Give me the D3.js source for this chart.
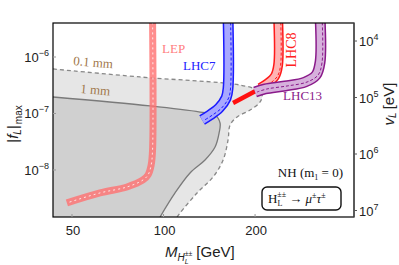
<!DOCTYPE html>
<html><head><meta charset="utf-8">
<script src="https://cdn.jsdelivr.net/npm/d3@7"></script>
<style>
body{margin:0;background:#fff}
text{font-family:"Liberation Sans",Arial,sans-serif}
.serif{font-family:"Liberation Serif","Times New Roman",serif}
</style>
</head><body>
<svg id="chart" width="399" height="265"></svg>
<script>
// values (mass in GeV, coupling |f_L|max)
var xTicks = [50, 100, 200];
var yTicks = [1e-6, 1e-7, 1e-8];
var vTicks = [1e4, 1e5, 1e6, 1e7];

// decay length contours
var mm01 = [[43.3,6.14e-7],[83.7,4.43e-7],[178.5,3.19e-7],[203,2.61e-7],[210.9,2.12e-7],[207.7,1.60e-7],[192.6,1.15e-7],[174.5,8.67e-8],[165.5,6.25e-8],[163.0,3.40e-8],[157.0,1.50e-8],[145.5,7.52e-9],[128.9,3.92e-9],[113.3,1.73e-9],[110.8,1.47e-9]];
var mm1 = [[43.3,1.96e-7],[90.3,1.36e-7],[131.9,1.06e-7],[147.7,9.40e-8],[153.4,6.79e-8],[152.3,4.52e-8],[147.7,2.55e-8],[136.9,1.50e-8],[122.2,8.85e-9],[109.1,3.92e-9],[97.4,1.47e-9]];

// exclusion bands
var lep = [[92,5e-6],[92,2.2e-8],[91,1.2e-8],[88.9,8.16e-9],[85.6,6.65e-9],[75.8,5.0e-9],[61.8,3.92e-9],[48.1,2.61e-9]];
var lhc7 = [[163,5e-6],[163,2.82e-7],[160.6,1.88e-7],[152.3,1.25e-7],[142.2,9.4e-8],[133.9,7.67e-8]];
var lhc8 = [[238.1,5e-6],[238.1,7.21e-7],[232.7,4.61e-7],[220.7,3.47e-7],[207.7,2.82e-7]];
var lhc8tail = [[212.4,2.94e-7],[169.3,1.53e-7]];
var lhc13 = [[327.2,5e-6],[327.2,8.16e-7],[317.5,4.8e-7],[292.1,3.61e-7],[251.1,3.07e-7],[215.8,2.72e-7],[200,2.4e-7]];

var svg = d3.select("#chart");
var pL = 53, pR = 354, pT = 23, pB = 217;

var x = d3.scaleLog().domain([43.3, 423]).range([pL, pR]);
var y = d3.scaleLog().domain([1.47e-9, 4.0e-6]).range([pB, pT]);
var v = d3.scaleLog().domain([4797, 1.303e7]).range([pT, pB]);

svg.append("clipPath").attr("id","clip")
  .append("rect").attr("x",pL).attr("y",pT).attr("width",pR-pL).attr("height",pB-pT);

var plot = svg.append("g").attr("clip-path","url(#clip)");

var line = d3.line()
  .x(function(d){ return x(d[0]); })
  .y(function(d){ return y(d[1]); })
  .curve(d3.curveCatmullRom);

// shaded regions: close them through the lower left corner
var corner = [x.domain()[0], y.domain()[0]];
plot.append("path")
  .attr("d", line(mm01) + "L" + x(corner[0]) + "," + y(corner[1]) + "Z")
  .attr("fill","#e6e6e6");
plot.append("path")
  .attr("d", line(mm1) + "L" + x(corner[0]) + "," + y(corner[1]) + "Z")
  .attr("fill","#d0d0d0");
plot.append("path").attr("d", line(mm01))
  .attr("fill","none").attr("stroke","#888").attr("stroke-width",1.3).attr("stroke-dasharray","4,3");
plot.append("path").attr("d", line(mm1))
  .attr("fill","none").attr("stroke","#7a7a7a").attr("stroke-width",1.3);

// LEP
plot.append("path").attr("d", line(lep))
  .attr("fill","none").attr("stroke","#ff7070").attr("stroke-opacity",0.8).attr("stroke-width",7);
plot.append("path").attr("d", line(lep))
  .attr("fill","none").attr("stroke","#fff").attr("stroke-opacity",0.8).attr("stroke-width",1).attr("stroke-dasharray","2,3");

var band = function(data, w, edge, fill, shift){
  plot.append("path").attr("d", line(data))
    .attr("fill","none").attr("stroke",edge).attr("stroke-width",w);
  plot.append("path").attr("d", line(data))
    .attr("fill","none").attr("stroke",fill).attr("stroke-width",w-3);
  plot.append("path").attr("d", line(data))
    .attr("transform","translate(" + shift + ",0)")
    .attr("fill","none").attr("stroke",edge).attr("stroke-width",1).attr("stroke-dasharray","3,2");
};

band(lhc7, 11, "#1a1aff", "#a8a8ff", 2.5);
plot.append("path").attr("d", line(lhc8tail))
  .attr("fill","none").attr("stroke","#ff1010").attr("stroke-width",4.5);
band(lhc8, 10, "#ff1a1a", "#ffb4b4", 2.5);
band(lhc13, 11, "#8a1a8a", "#d6b0dc", 2);

// frame
svg.append("rect").attr("x",pL).attr("y",pT).attr("width",pR-pL).attr("height",pB-pT)
  .attr("fill","none").attr("stroke","#000").attr("stroke-width",1.2);
svg.append("line").attr("x1",pR).attr("x2",pR).attr("y1",pT).attr("y2",pB)
  .attr("stroke","#555").attr("stroke-width",1.2);

// ticks
xTicks.forEach(function(t){
  svg.append("line").attr("x1",x(t)).attr("x2",x(t)).attr("y1",pB).attr("y2",pB-3)
    .attr("stroke","#999");
  svg.append("text").attr("x",x(t)+1).attr("y",pB+18).attr("text-anchor","middle")
    .attr("font-size",13).attr("fill","#222").text(t);
});

yTicks.forEach(function(t){
  svg.append("line").attr("x1",pL).attr("x2",pL+3).attr("y1",y(t)).attr("y2",y(t))
    .attr("stroke","#999");
  var tx = svg.append("text").attr("x",pL-4).attr("y",y(t)+5).attr("text-anchor","end")
    .attr("font-size",13).attr("fill","#222");
  tx.append("tspan").text("10");
  tx.append("tspan").attr("dy",-6).attr("font-size",9).text("\u2212" + Math.round(-Math.log10(t)));
});

vTicks.forEach(function(t){
  svg.append("line").attr("x1",pR).attr("x2",pR+3).attr("y1",v(t)).attr("y2",v(t))
    .attr("stroke","#555");
  var tx = svg.append("text").attr("x",pR+5).attr("y",v(t)+5)
    .attr("font-size",13).attr("fill","#222");
  tx.append("tspan").text("10");
  tx.append("tspan").attr("dy",-6).attr("font-size",9).text(Math.round(Math.log10(t)));
});

// axis labels
var xl = svg.append("text").attr("x",165).attr("y",257).attr("font-size",15).attr("fill","#222");
xl.append("tspan").attr("font-style","italic").text("M");
xl.append("tspan").attr("font-style","italic").attr("font-size",10).attr("dy",4).text("H");
xl.append("tspan").attr("font-style","italic").attr("font-size",7).attr("dy",3).text("L");
xl.append("tspan").attr("font-size",7).attr("dx",-4).attr("dy",-8).text("\u00b1\u00b1");
xl.append("tspan").attr("dy",1).attr("dx",4).text("[GeV]");

var yl = svg.append("text").attr("transform","translate(18,124) rotate(-90)")
  .attr("text-anchor","middle").attr("font-size",15).attr("fill","#222");
yl.append("tspan").text("|");
yl.append("tspan").attr("font-style","italic").text("f");
yl.append("tspan").attr("font-style","italic").attr("font-size",10).attr("dy",3).text("L");
yl.append("tspan").attr("dy",-3).text("|");
yl.append("tspan").attr("font-size",10).attr("dy",4).attr("dx",1).text("max");

var vl = svg.append("text").attr("transform","translate(394,104) rotate(-90)")
  .attr("text-anchor","middle").attr("font-size",15).attr("fill","#222");
vl.append("tspan").attr("font-style","italic").text("v");
vl.append("tspan").attr("font-style","italic").attr("font-size",10).attr("dy",2).text("L");
vl.append("tspan").attr("dy",-2).attr("dx",3).text("[eV]");

// annotations
var note = function(mx, fy, txt, col, rot){
  svg.append("text").attr("class","serif")
    .attr("transform","translate(" + x(mx) + "," + y(fy) + ") rotate(" + rot + ")")
    .attr("font-size",13).attr("fill",col).text(txt);
};
note(98.9, 1.18e-6, "LEP", "#ff8080", 0);
note(115.9, 5.89e-7, "LHC7", "#2424ff", 0);
note(247.3, 1.73e-7, "LHC13", "#8a1a8a", 0);
note(50.4, 7.21e-7, "0.1 mm", "#a0764a", 5);
note(53.1, 2.31e-7, "1 mm", "#a0764a", 5);
svg.append("text").attr("class","serif")
  .attr("transform","translate(" + x(264.7) + "," + y(1.33e-6) + ") rotate(-90)")
  .attr("text-anchor","middle").attr("dy",4).attr("font-size",14).attr("fill","#ff2020").text("LHC8");

var nh = svg.append("text").attr("class","serif").attr("x",343).attr("y",177)
  .attr("text-anchor","end").attr("font-size",13).attr("fill","#111");
nh.append("tspan").text("NH (m");
nh.append("tspan").attr("font-size",8).attr("dy",3).text("1");
nh.append("tspan").attr("dy",-3).text(" = 0)");

svg.append("rect").attr("x",262).attr("y",187).attr("width",79).attr("height",23).attr("rx",5)
  .attr("fill","#fff").attr("stroke","#111").attr("stroke-width",1.4);
var bx = svg.append("text").attr("class","serif").attr("x",268).attr("y",203)
  .attr("font-size",13).attr("fill","#111");
bx.append("tspan").text("H");
bx.append("tspan").attr("font-size",8).attr("dy",3).text("L");
bx.append("tspan").attr("font-size",8).attr("dx",-5).attr("dy",-9).text("\u00b1\u00b1");
bx.append("tspan").attr("dy",6).text(" \u2192 ");
bx.append("tspan").attr("font-style","italic").text("\u03bc");
bx.append("tspan").attr("font-size",8).attr("dy",-5).text("\u00b1");
bx.append("tspan").attr("font-style","italic").attr("dy",5).text("\u03c4");
bx.append("tspan").attr("font-size",8).attr("dy",-5).text("\u00b1");
</script>
</body></html>
